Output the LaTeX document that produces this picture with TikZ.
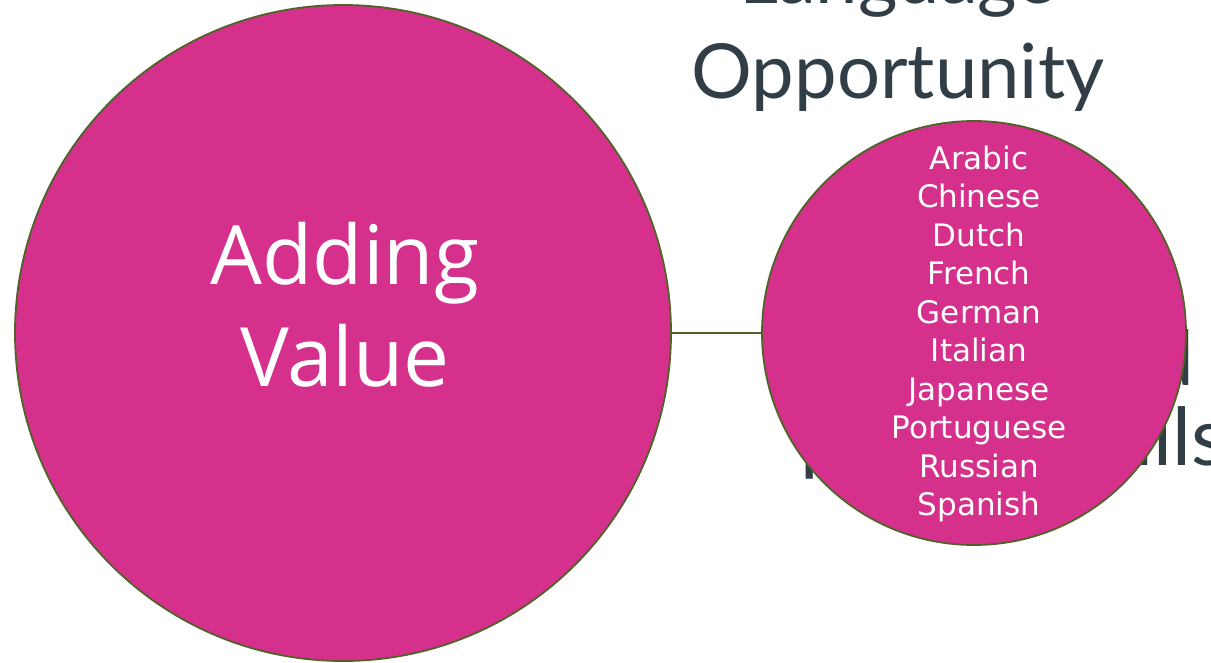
\documentclass[tikz,border=0pt]{standalone}
\usepackage{fontspec}
\setmainfont{Open Sans}
\newfontfamily\backfont{Lato}
\newfontfamily\listfont{DejaVu Sans}
\definecolor{hub}{HTML}{D5318C}
\definecolor{rim}{HTML}{4F6228}
\definecolor{ink}{HTML}{323E46}

\begin{document}
\begin{tikzpicture}[
  x=1pt, y=-1pt,
  bubble/.style={circle, draw=rim, line width=1.8pt, fill=hub, inner sep=0pt},
  backtext/.style={text=ink, inner sep=0pt, font=\backfont\fontsize{76}{95}\selectfont},
  bigtext/.style={text=white, align=center, inner sep=0pt, font=\fontsize{82}{102}\selectfont},
  listtext/.style={text=white, align=center, inner sep=0pt, font=\listfont\fontsize{31}{38.5}\selectfont}
]
\useasboundingbox (0,0) rectangle (1211,662);

% text lying behind the bubbles
\node[backtext, anchor=base] (lang) at (898,3) {Language};
\node[backtext, anchor=base] (opp) at (898,98) {Opportunity};
\node[backtext, anchor=base east] (and) at (1194,385) {and};
\node[backtext, anchor=base west, font=\backfont\fontsize{80}{95}\selectfont] (skills) at (800,465) {people skills};

\node[bubble, minimum size=656pt] (value) at (343,333) {};
\node[bigtext] (valuelbl) at (345,305) {Adding\\Value};

\node[bubble, minimum size=424pt] (langs) at (974,333) {};
\node[listtext] (langlist) at (979,334)
  {Arabic\\Chinese\\Dutch\\French\\German\\Italian\\Japanese\\Portuguese\\Russian\\Spanish};

\draw[rim, line width=1.8pt] (value) -- (langs);

\end{tikzpicture}
\end{document}
